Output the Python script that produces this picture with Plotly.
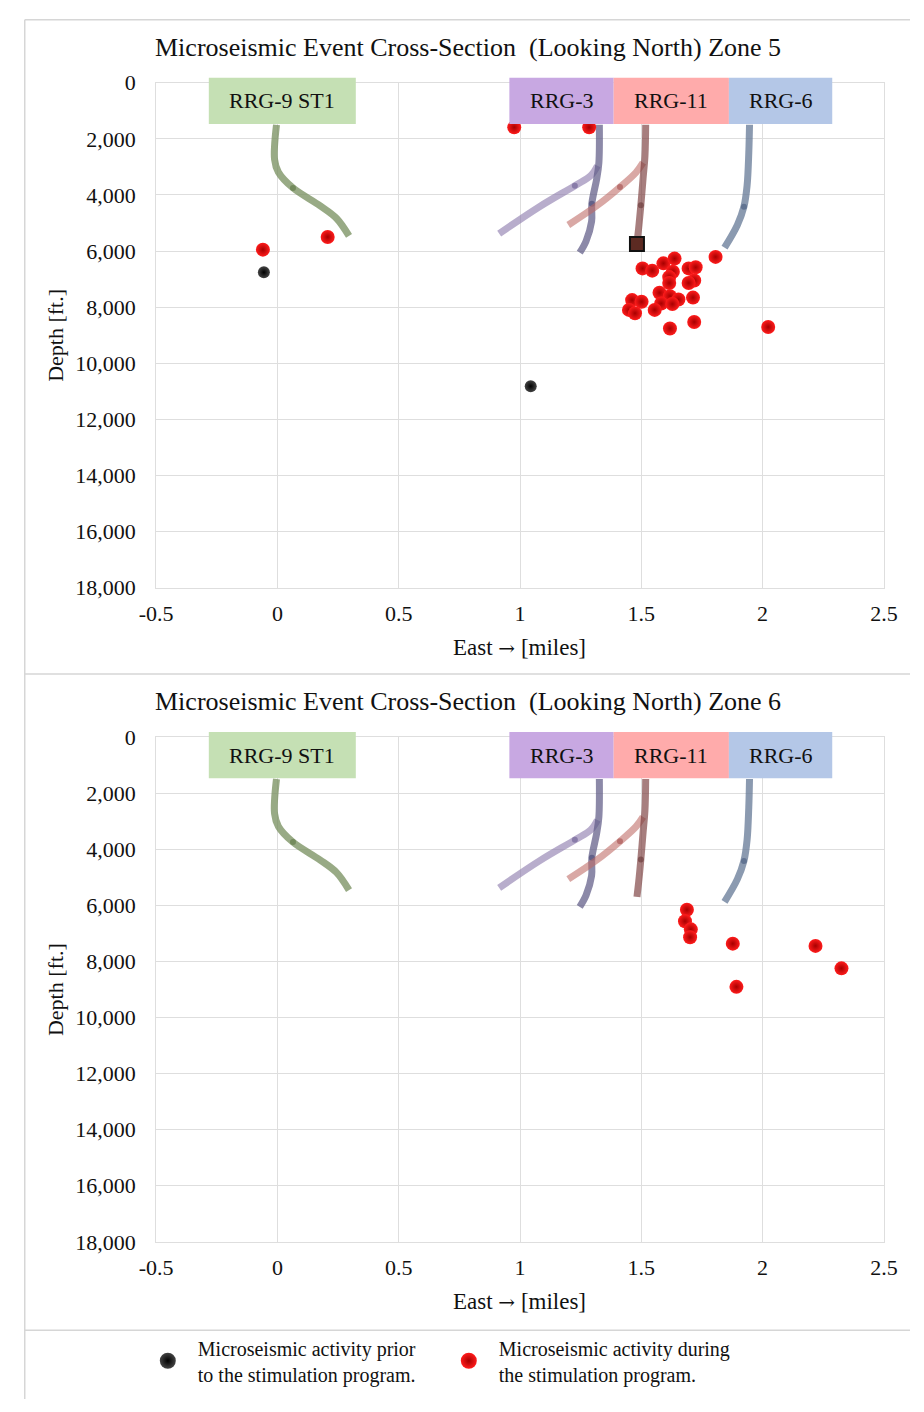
import plotly.graph_objects as go

W, H = 924, 1412

# ---------------- data ----------------
x_ticks = [-0.5, 0, 0.5, 1, 1.5, 2, 2.5]
x_tick_text = ["-0.5", "0", "0.5", "1", "1.5", "2", "2.5"]
y_ticks = [0, 2000, 4000, 6000, 8000, 10000, 12000, 14000, 16000, 18000]
y_tick_text = ["0", "2,000", "4,000", "6,000", "8,000", "10,000", "12,000", "14,000", "16,000", "18,000"]

# well trajectories (east [miles], depth [ft])
rrg9_x = [-0.004, -0.012, 0.004, 0.064, 0.175, 0.243, 0.295]
rrg9_d = [1500, 2730, 3190, 3750, 4380, 4830, 5460]
rrg9_dot = [0, 0, 0, 1, 0, 0, 0]

rrg3a_x = [1.327, 1.325, 1.316, 1.296, 1.295, 1.272, 1.246]
rrg3a_d = [1500, 2850, 3430, 4310, 4950, 5650, 6060]
rrg3a_dot = [0, 0, 0, 1, 0, 0, 0]

rrg3b_x = [1.319, 1.292, 1.226, 1.080, 0.914]
rrg3b_d = [2960, 3310, 3670, 4420, 5380]
rrg3b_dot = [0, 0, 1, 0, 0]

rrg11a_x = [1.518, 1.515, 1.507, 1.498, 1.489, 1.482]
rrg11a_d = [1500, 2610, 3430, 4370, 5180, 5700]
rrg11a_dot = [0, 0, 0, 1, 0, 0]

rrg11b_x = [1.507, 1.478, 1.412, 1.319, 1.199]
rrg11b_d = [2850, 3200, 3720, 4370, 5070]
rrg11b_dot = [0, 0, 1, 0, 0]

rrg6_x = [1.946, 1.943, 1.936, 1.923, 1.896, 1.843]
rrg6_d = [1500, 2500, 3670, 4420, 5070, 5880]
rrg6_dot = [0, 0, 0, 1, 0, 0]

# well labels
well_names = ["RRG-9 ST1", "RRG-3", "RRG-11", "RRG-6"]
well_box_x0 = [-0.283, 0.956, 1.386, 1.861]
well_box_x1 = [0.323, 1.386, 1.861, 2.287]
well_box_colors = ["#c5e0b4", "#c8a8e2", "#ffabab", "#b4c7e7"]

# Zone 5 events
z5_prior_x = [-0.056, 1.044]
z5_prior_d = [6760, 10820]
z5_during_x = [-0.060, 0.207, 0.976, 1.285,
               1.505, 1.545, 1.591, 1.637, 1.630, 1.615, 1.695, 1.724, 1.718,
               1.695, 1.615, 1.575, 1.618, 1.653, 1.713, 1.462, 1.501, 1.582,
               1.628, 1.449, 1.474, 1.555, 1.718, 1.618, 2.023, 1.806]
z5_during_d = [5950, 5500, 1590, 1590,
               6620, 6700, 6440, 6270, 6740, 6930, 6620, 6580, 7050,
               7140, 7140, 7490, 7610, 7730, 7660, 7750, 7810, 7870,
               7890, 8100, 8220, 8100, 8530, 8760, 8710, 6210]
z5_square_x = [1.482]
z5_square_d = [5750]

# Zone 6 events
z6_during_x = [1.688, 1.680, 1.704, 1.701, 1.877, 2.218, 2.325, 1.892]
z6_during_d = [6160, 6570, 6860, 7140, 7370, 7450, 8250, 8910]

legend_names = ["Microseismic activity prior<br>to the stimulation program.",
                "Microseismic activity during<br>the stimulation program."]

# ---------------- layout helpers ----------------
def py(p):
    return 1 - p / H

def px(p):
    return p / W

FONT = "Liberation Serif"
fig = go.Figure()

wells = [
    (rrg9_x, rrg9_d, rrg9_dot, "rgba(118,142,92,0.75)", "rgba(95,120,70,0.9)"),
    (rrg3b_x, rrg3b_d, rrg3b_dot, "rgba(140,122,172,0.62)", "rgba(100,85,140,0.8)"),
    (rrg3a_x, rrg3a_d, rrg3a_dot, "rgba(95,92,135,0.72)", "rgba(70,70,115,0.85)"),
    (rrg11b_x, rrg11b_d, rrg11b_dot, "rgba(190,105,100,0.58)", "rgba(160,70,70,0.8)"),
    (rrg11a_x, rrg11a_d, rrg11a_dot, "rgba(125,65,65,0.68)", "rgba(100,50,50,0.8)"),
    (rrg6_x, rrg6_d, rrg6_dot, "rgba(100,120,150,0.75)", "rgba(70,90,125,0.85)"),
]

def red_marker(size):
    return dict(size=size, color="#ff1c1c", line=dict(width=0),
                gradient=dict(type="radial", color="#a80000"))

def black_marker(size):
    return dict(size=size, color="#444444", line=dict(width=0),
                gradient=dict(type="radial", color="#000000"))

for (xa, ya) in [("x", "y"), ("x2", "y2")]:
    for wx, wd, wdot, col, dcol in wells:
        fig.add_trace(go.Scatter(
            x=wx, y=wd, xaxis=xa, yaxis=ya, mode="lines+markers",
            line=dict(color=col, width=7, shape="spline", smoothing=1.0),
            marker=dict(size=[6 * v for v in wdot], color=dcol, line=dict(width=0)),
            showlegend=False, hoverinfo="skip"))

# zone 5 events
fig.add_trace(go.Scatter(x=z5_square_x, y=z5_square_d, xaxis="x", yaxis="y", mode="markers",
                         marker=dict(symbol="square", size=14, color="#5c2a22",
                                     line=dict(color="#111111", width=2)),
                         showlegend=False, hoverinfo="skip"))
fig.add_trace(go.Scatter(x=z5_prior_x, y=z5_prior_d, xaxis="x", yaxis="y", mode="markers",
                         marker=black_marker(12), showlegend=False))
fig.add_trace(go.Scatter(x=z5_during_x, y=z5_during_d, xaxis="x", yaxis="y", mode="markers",
                         marker=red_marker(14), showlegend=False))
# zone 6 events
fig.add_trace(go.Scatter(x=z6_during_x, y=z6_during_d, xaxis="x2", yaxis="y2", mode="markers",
                         marker=red_marker(14), showlegend=False))

# legend entries
fig.add_trace(go.Scatter(x=[None], y=[None], xaxis="x2", yaxis="y2", mode="markers",
                         marker=black_marker(16), name=legend_names[0], showlegend=True))
fig.add_trace(go.Scatter(x=[None], y=[None], xaxis="x2", yaxis="y2", mode="markers",
                         marker=red_marker(17), name=legend_names[1], showlegend=True))

# ---------------- axes ----------------
xdom = [px(144), px(897)]
ax_common = dict(range=[-0.5, 2.5], tickvals=x_ticks, ticktext=x_tick_text,
                 showgrid=True, gridcolor="#dedede", gridwidth=1, zeroline=False,
                 showline=True, linecolor="#dedede", linewidth=1, mirror=True,
                 ticks="", ticklabelstandoff=6,
                 tickfont=dict(family=FONT, size=22, color="#111111"), domain=xdom)
ay_common = dict(range=[18000, 0], tickvals=y_ticks, ticktext=y_tick_text,
                 showgrid=True, gridcolor="#dedede", gridwidth=1, zeroline=False,
                 showline=True, linecolor="#dedede", linewidth=1, mirror=True,
                 ticks="", ticklabelstandoff=15,
                 tickfont=dict(family=FONT, size=22, color="#111111"))

top_dom = [py(586), py(72)]
bot_dom = [py(1252), py(738)]

fig.update_layout(
    xaxis=dict(**ax_common, anchor="y"),
    yaxis=dict(**ay_common, anchor="x", domain=top_dom),
    xaxis2=dict(**ax_common, anchor="y2"),
    yaxis2=dict(**ay_common, anchor="x2", domain=bot_dom),
)

# ---------------- shapes & annotations ----------------
shapes = []
annotations = []

frame_col = "#d6d6d6"
shapes.append(dict(type="line", xref="paper", yref="paper", x0=px(8), x1=1.0, y0=py(8), y1=py(8),
                   line=dict(color=frame_col, width=1.5)))
shapes.append(dict(type="line", xref="paper", yref="paper", x0=px(8), x1=px(8), y0=0, y1=py(8),
                   line=dict(color=frame_col, width=1.5)))
shapes.append(dict(type="line", xref="paper", yref="paper", x0=px(8), x1=1.0, y0=py(674), y1=py(674),
                   line=dict(color=frame_col, width=1.5)))
shapes.append(dict(type="line", xref="paper", yref="paper", x0=px(8), x1=1.0, y0=py(1342), y1=py(1342),
                   line=dict(color=frame_col, width=1.5)))

for (xr, top_px, zone) in [("x", 72, "5"), ("x2", 738, "6")]:
    b0 = top_px - 5
    b1 = top_px + 42
    for name, x0, x1, c in zip(well_names, well_box_x0, well_box_x1, well_box_colors):
        shapes.append(dict(type="rect", xref=xr, yref="paper", x0=x0, x1=x1,
                           y0=py(b1), y1=py(b0), fillcolor=c, line=dict(width=0), layer="above"))
        annotations.append(dict(xref=xr, yref="paper", x=(x0 + x1) / 2, y=py((b0 + b1) / 2),
                                text=name, showarrow=False,
                                font=dict(family=FONT, size=22, color="#111111"),
                                xanchor="center", yanchor="middle"))
    annotations.append(dict(xref="paper", yref="paper", x=px(141), y=py(top_px - 36),
                            text="Microseismic Event Cross-Section  (Looking North) Zone " + zone,
                            showarrow=False, xanchor="left", yanchor="middle",
                            font=dict(family=FONT, size=26, color="#111111")))
    annotations.append(dict(xref="paper", yref="paper", x=px(520), y=py(top_px + 575),
                            text="East <span style=\"font-family:'DejaVu Serif';font-size:20px\">→</span> [miles]",
                            showarrow=False, xanchor="center", yanchor="middle",
                            font=dict(family=FONT, size=23, color="#111111")))
    annotations.append(dict(xref="paper", yref="paper", x=px(40), y=py(top_px + 257),
                            text="Depth [ft.]", showarrow=False, textangle=-90,
                            xanchor="center", yanchor="middle",
                            font=dict(family=FONT, size=22, color="#111111")))

fig.update_layout(
    width=W, height=H,
    margin=dict(l=0, r=0, t=0, b=0),
    paper_bgcolor="white", plot_bgcolor="white",
    shapes=shapes, annotations=annotations,
    legend=dict(orientation="h", x=px(125), y=py(1340), xanchor="left", yanchor="top",
                font=dict(family=FONT, size=20, color="#111111"),
                itemwidth=50, entrywidth=236, entrywidthmode="pixels", valign="middle",
                bgcolor="rgba(0,0,0,0)"),
)

fig.write_html("out.html")
